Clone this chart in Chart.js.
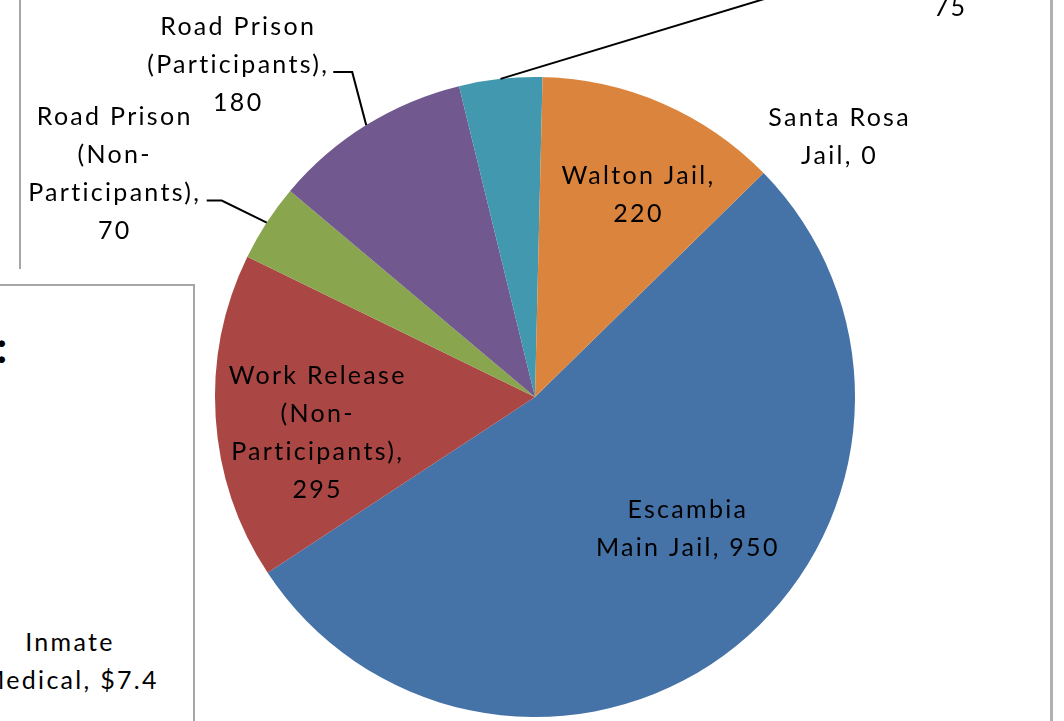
<!DOCTYPE html>
<html>
<head>
<meta charset="utf-8">
<script src="https://cdn.jsdelivr.net/npm/chart.js@4.4.0/dist/chart.umd.min.js"></script>
<style>
  html, body { margin: 0; padding: 0; background: #fff; }
  body { width: 1064px; height: 721px; position: relative; overflow: hidden; font-family: 'Lato', sans-serif; }
  #pieChart { position: absolute; left: 0; top: 0; }
  .frame-left { position: absolute; left: 19px; top: 0; width: 2px; height: 269px; background: #a6a6a6; }
  .frame-right { position: absolute; left: 1050px; top: 0; width: 3px; height: 721px; background: #b0b0b0; }
  .side-box { position: absolute; left: -2px; top: 284px; width: 193px; height: 450px; border: 2px solid #a6a6a6; background: #fff; }
  .side-colon { position: absolute; left: -4px; top: 320px; font: bold 44px 'Lato', sans-serif; color: #000; }
  .side-label { position: absolute; left: -30px; width: 200px; top: 622px; text-align: center; font: 25px 'Lato', sans-serif; letter-spacing: 2.3px; line-height: 38px; color: #000; }
</style>
</head>
<body>
<div class="frame-left"></div>
<div class="frame-right"></div>
<div class="side-box"></div>
<div class="side-colon">:</div>
<div class="side-label">Inmate<br>Medical, $7.4</div>
<canvas id="pieChart" width="1064" height="721"></canvas>
<script>
// Slices in Excel order (drawn clockwise from the rotation angle)
const categories = [
  'Escambia Main Jail',
  'Work Release (Non-Participants)',
  'Road Prison (Non-Participants)',
  'Road Prison (Participants)',
  'Work Release (Participants)',
  'Walton Jail',
  'Santa Rosa Jail'
];
const inmates = [950, 295, 70, 180, 75, 220, 0];

// How each data label wraps; {v} is replaced by the value
const labelLines = [
  ['Escambia', 'Main Jail, {v}'],
  ['Work Release', '(Non-', 'Participants),', '{v}'],
  ['Road Prison', '(Non-', 'Participants),', '{v}'],
  ['Road Prison', '(Participants),', '{v}'],
  ['Work Release', '(Participants),', '{v}'],
  ['Walton Jail,', '{v}'],
  ['Santa Rosa', 'Jail, {v}']
];

const sliceColors = ['#4572a7', '#aa4643', '#89a54e', '#71588f', '#4198af', '#db843d', '#4572a7'];

// label placement: offset of the text block centre from the slice's outer-edge midpoint,
// plus an optional leader (elbow and stub end, relative to the text centre)
const labelOffsets = [
  { dx: -48, dy: -117 },
  { dx: 102, dy: 15 },
  { dx: -152, dy: -49, leader: { elbow: [107, 27], stub: [92, 27] } },
  { dx: -128, dy: -60, leader: { elbow: [114, 7], stub: [95, 7] } },
  { dx: 450, dy: -109, leader: { elbow: [-100, 3], stub: [-100, 3] } },
  { dx: -24, dy: 91 },
  { dx: 76, dy: -36 }
];

const LINE_H = 38;

const pieLabels = {
  id: 'pieLabels',
  afterDatasetsDraw(chart) {
    const ctx = chart.ctx;
    const meta = chart.getDatasetMeta(0);
    ctx.save();
    ctx.font = "25px 'Lato', sans-serif";
    if ('letterSpacing' in ctx) ctx.letterSpacing = '2.3px';
    ctx.fillStyle = '#000';
    ctx.textAlign = 'center';
    ctx.textBaseline = 'middle';
    meta.data.forEach((arc, i) => {
      const p = arc.getProps(['x', 'y', 'startAngle', 'endAngle', 'outerRadius'], true);
      const mid = (p.startAngle + p.endAngle) / 2;
      const ex = p.x + Math.cos(mid) * p.outerRadius;
      const ey = p.y + Math.sin(mid) * p.outerRadius;
      const off = labelOffsets[i];
      const cx = ex + off.dx;
      const cy = ey + off.dy;

      if (off.leader) {
        ctx.beginPath();
        ctx.strokeStyle = '#000';
        ctx.lineWidth = 2;
        ctx.moveTo(ex, ey);
        ctx.lineTo(cx + off.leader.elbow[0], cy + off.leader.elbow[1]);
        ctx.lineTo(cx + off.leader.stub[0], cy + off.leader.stub[1]);
        ctx.stroke();
      }

      const lines = labelLines[i].map(s => s.replace('{v}', inmates[i]));
      const top = cy - (lines.length - 1) * LINE_H / 2;
      lines.forEach((ln, k) => ctx.fillText(ln, cx, top + k * LINE_H));
    });
    ctx.restore();
  }
};

new Chart(document.getElementById('pieChart'), {
  type: 'pie',
  data: {
    labels: categories,
    datasets: [{
      data: inmates,
      backgroundColor: sliceColors,
      borderWidth: 0
    }]
  },
  options: {
    responsive: false,
    animation: false,
    rotation: 45.6,
    layout: { padding: { left: 215, right: 209, top: 77, bottom: 4 } },
    plugins: {
      legend: { display: false },
      tooltip: { enabled: false }
    }
  },
  plugins: [pieLabels]
});
</script>
</body>
</html>
